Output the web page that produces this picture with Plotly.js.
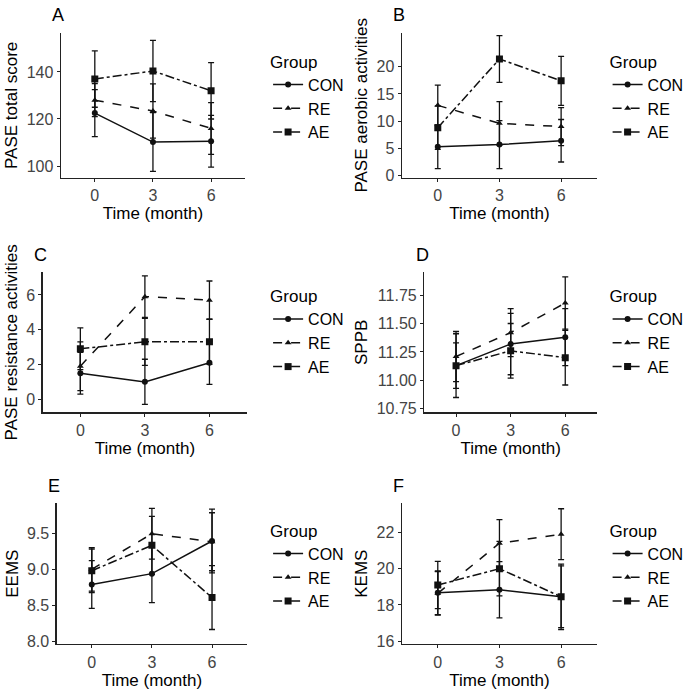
<!DOCTYPE html>
<html><head><meta charset="utf-8">
<script src="https://cdn.plot.ly/plotly-3.0.1.min.js"></script>
<style>body{margin:0}#c{width:700px;height:700px}</style></head>
<body><div id="c"></div>
<script>
const months = [0, 3, 6];
const groups = ["CON", "RE", "AE"];
// Panel A: PASE total score
const A_CON = [122.5, 110.2, 110.5], A_CON_err = [10, 12.5, 11];
const A_RE  = [128, 123.4, 116],     A_RE_err  = [7, 11.5, 11];
const A_AE  = [137, 140.4, 132],     A_AE_err  = [12, 13, 12];
// Panel B: PASE aerobic activities
const B_CON = [5.3, 5.7, 6.4],  B_CON_err = [4, 4.4, 3.9];
const B_RE  = [12.9, 9.6, 9.0], B_RE_err  = [3.7, 4, 3.5];
const B_AE  = [8.8, 21.4, 17.4], B_AE_err = [4, 4.3, 4.5];
// Panel C: PASE resistance activities
const C_CON = [1.5, 1.0, 2.1], C_CON_err = [1.2, 1.3, 1.25];
const C_RE  = [1.9, 5.9, 5.7], C_RE_err  = [1.4, 1.2, 1.1];
const C_AE  = [2.9, 3.3, 3.3], C_AE_err  = [1.2, 1.35, 1.3];
// Panel D: SPPB
const D_CON = [11.13, 11.32, 11.38], D_CON_err = [0.28, 0.27, 0.25];
const D_RE  = [11.21, 11.42, 11.68], D_RE_err  = [0.22, 0.21, 0.23];
const D_AE  = [11.13, 11.26, 11.20], D_AE_err  = [0.2, 0.24, 0.24];
// Panel E: EEMS
const E_CON = [8.79, 8.94, 9.39], E_CON_err = [0.33, 0.4, 0.44];
const E_RE  = [9.0, 9.49, 9.38],  E_RE_err  = [0.3, 0.35, 0.4];
const E_AE  = [8.98, 9.33, 8.61], E_AE_err  = [0.3, 0.4, 0.44];
// Panel F: KEMS
const F_CON = [18.67, 18.84, 18.45], F_CON_err = [1.2, 1.55, 1.7];
const F_RE  = [18.64, 21.4, 21.9],   F_RE_err  = [1.2, 1.3, 1.4];
const F_AE  = [19.1, 20.0, 18.45],   F_AE_err  = [1.3, 1.5, 1.8];

const yTitles = ["PASE total score","PASE aerobic activities","PASE resistance activities","SPPB","EEMS","KEMS"];
const letters = ["A","B","C","D","E","F"];
const yTicks = [[100,120,140],[0,5,10,15,20],[0,2,4,6],[10.75,11.0,11.25,11.5,11.75],[8.0,8.5,9.0,9.5],[16,18,20,22]];
const yTickText = [null,null,null,["10.75","11.00","11.25","11.50","11.75"],["8.0","8.5","9.0","9.5"],null];

const panels = [
 [A_CON,A_CON_err,A_RE,A_RE_err,A_AE,A_AE_err],
 [B_CON,B_CON_err,B_RE,B_RE_err,B_AE,B_AE_err],
 [C_CON,C_CON_err,C_RE,C_RE_err,C_AE,C_AE_err],
 [D_CON,D_CON_err,D_RE,D_RE_err,D_AE,D_AE_err],
 [E_CON,E_CON_err,E_RE,E_RE_err,E_AE,E_AE_err],
 [F_CON,F_CON_err,F_RE,F_RE_err,F_AE,F_AE_err]];

const xDom = [[0.087,0.35],[0.574,0.853],[0.061,0.353],[0.606,0.853],[0.081,0.353],[0.574,0.853]];
const yDom = [[0.746,0.953],[0.746,0.953],[0.411,0.611],[0.411,0.611],[0.08,0.281],[0.08,0.281]];
const yRng = [[95,156.6],[-0.4,26.2],[-0.75,7.3],[10.72,11.95],[7.97,9.91],[15.85,23.6]];
const legPos = [[0.383,0.935],[0.868,0.935],[0.383,0.6],[0.868,0.6],[0.383,0.265],[0.868,0.265]];

const dashes = ["solid","dash","dashdot"];
const syms = ["circle","triangle-up","square"];
const font = "Liberation Sans, Arial, sans-serif";

const traces = [];
const layout = {width:700,height:700,margin:{l:0,r:0,t:0,b:0},paper_bgcolor:"white",plot_bgcolor:"white",
  font:{family:font,color:"#000"},annotations:[]};

panels.forEach((p,i)=>{
  const n = i+1, sfx = n===1?"":n;
  groups.forEach((g,k)=>{
    traces.push({x:months,y:p[2*k],name:g,type:"scatter",mode:"lines+markers",
      xaxis:"x"+sfx,yaxis:"y"+sfx,legend:"legend"+sfx,
      line:{color:"#111",width:1.5,dash:dashes[k]},
      marker:{symbol:syms[k],size:k===2?7:6,color:"#111"},
      error_y:{type:"data",array:p[2*k+1],visible:true,color:"#111",thickness:1.3,width:3}});
  });
  const ax = {domain:xDom[i],range:[-1.75,7.75],anchor:"y"+sfx,tickvals:months,showgrid:false,zeroline:false,
    showline:true,linecolor:"#222",linewidth:1.3,ticks:"outside",ticklen:3,tickcolor:"#222",
    tickfont:{size:16,color:"#444"},title:{text:"Time (month)",font:{size:17},standoff:3}};
  const ay = {domain:yDom[i],range:yRng[i],anchor:"x"+sfx,tickvals:yTicks[i],showgrid:false,zeroline:false,
    showline:true,linecolor:"#222",linewidth:1.3,ticks:"outside",ticklen:3,tickcolor:"#222",
    tickfont:{size:16,color:"#444"},title:{text:yTitles[i],font:{size:17},standoff:4}};
  if (yTickText[i]) ay.ticktext = yTickText[i];
  layout["xaxis"+sfx]=ax; layout["yaxis"+sfx]=ay;
  layout["legend"+sfx]={x:legPos[i][0],y:legPos[i][1],xanchor:"left",yanchor:"top",
    title:{text:"Group",font:{size:17}},font:{size:16},bgcolor:"rgba(0,0,0,0)",tracegroupgap:4,itemwidth:30};
  layout.annotations.push({text:letters[i],xref:"paper",yref:"paper",x:xDom[i][0]-0.015,y:yDom[i][1]+0.008,
    xanchor:"left",yanchor:"bottom",showarrow:false,font:{size:18}});
});
Plotly.newPlot("c",traces,layout,{staticPlot:true});
</script></body></html>
